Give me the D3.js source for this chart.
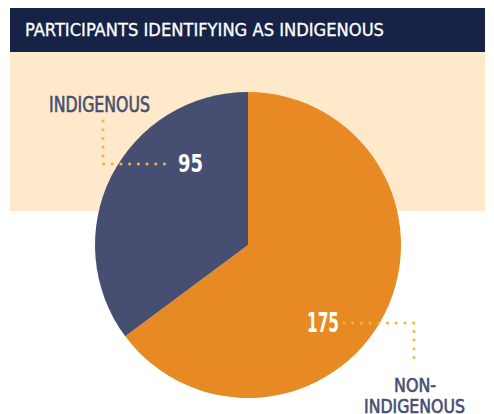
<!DOCTYPE html>
<html lang="en">
<head>
  <meta charset="UTF-8">
  <title>Participants identifying as Indigenous</title>
  <style>
    body { margin: 0; background: #fff; }
    text { font-family: "DejaVu Sans", sans-serif; font-stretch: condensed; }
  </style>
</head>
<body>
  <script src="https://d3js.org/d3.v7.min.js"></script>
  <script>
    const width = 494,
      height = 414;

    // data (drawn clockwise from 12 o'clock)
    const categories = ['NON-INDIGENOUS', 'INDIGENOUS'];
    const values = [175, 95];
    const colors = ['#e88a24', '#464f71'];
    const title = 'PARTICIPANTS IDENTIFYING AS INDIGENOUS';

    const cx = 248, cy = 245, radius = 153;

    const svg = d3.select('body')
      .append('svg')
      .attr('width', width)
      .attr('height', height);

    // header + peach band
    svg.append('rect')
      .attr('x', 10).attr('y', 52)
      .attr('width', 475).attr('height', 159)
      .attr('fill', '#fee9cb');

    svg.append('rect')
      .attr('x', 10).attr('y', 8)
      .attr('width', 475).attr('height', 44)
      .attr('fill', '#172247');

    svg.append('text')
      .attr('x', 25).attr('y', 36)
      .attr('fill', '#fff')
      .attr('stroke', '#fff')
      .attr('stroke-width', 0.3)
      .attr('font-size', 17.5)
      .attr('textLength', 359)
      .attr('lengthAdjust', 'spacingAndGlyphs')
      .text(title);

    const data = categories.map((c, i) => ({ name: c, value: values[i], color: colors[i] }));

    const pie = d3.pie().sort(null).value(d => d.value);
    const arc = d3.arc().innerRadius(0).outerRadius(radius);

    const g = svg.append('g').attr('transform', `translate(${cx},${cy})`);

    g.selectAll('path')
      .data(pie(data))
      .join('path')
      .attr('d', arc)
      .attr('fill', d => d.data.color);

    // dotted leader lines
    const dots = '0.1 8.6';
    svg.append('path')
      .attr('d', 'M103,121 V164 H172')
      .attr('fill', 'none')
      .attr('stroke', '#fbb040')
      .attr('stroke-width', 3)
      .attr('stroke-linecap', 'round')
      .attr('stroke-dasharray', dots);

    svg.append('path')
      .attr('d', 'M344,323 H414 V366')
      .attr('fill', 'none')
      .attr('stroke', '#fbb040')
      .attr('stroke-width', 3)
      .attr('stroke-linecap', 'round')
      .attr('stroke-dasharray', dots);

    // value labels
    svg.append('text')
      .attr('x', 178).attr('y', 172)
      .attr('fill', '#fff')
      .attr('font-size', 25)
      .attr('font-weight', 'bold')
      .attr('textLength', 25)
      .attr('lengthAdjust', 'spacingAndGlyphs')
      .text(values[1]);

    svg.append('text')
      .attr('x', 307).attr('y', 332)
      .attr('fill', '#fff')
      .attr('font-size', 26)
      .attr('font-weight', 'bold')
      .attr('textLength', 32)
      .attr('lengthAdjust', 'spacingAndGlyphs')
      .text(values[0]);

    // category labels
    svg.append('text')
      .attr('x', 49).attr('y', 112)
      .attr('fill', '#464f71')
      .attr('stroke', '#464f71')
      .attr('stroke-width', 0.6)
      .attr('font-size', 20.5)
      .attr('textLength', 101)
      .attr('lengthAdjust', 'spacingAndGlyphs')
      .text(categories[1]);

    const nonLabel = svg.append('text')
      .attr('fill', '#464f71')
      .attr('stroke', '#464f71')
      .attr('stroke-width', 0.6)
      .attr('font-size', 19);
    nonLabel.append('tspan')
      .attr('x', 394).attr('y', 392)
      .attr('textLength', 42)
      .attr('lengthAdjust', 'spacingAndGlyphs')
      .text('NON-');
    nonLabel.append('tspan')
      .attr('x', 364).attr('y', 412.5)
      .attr('textLength', 101)
      .attr('lengthAdjust', 'spacingAndGlyphs')
      .text('INDIGENOUS');
  </script>
</body>
</html>
